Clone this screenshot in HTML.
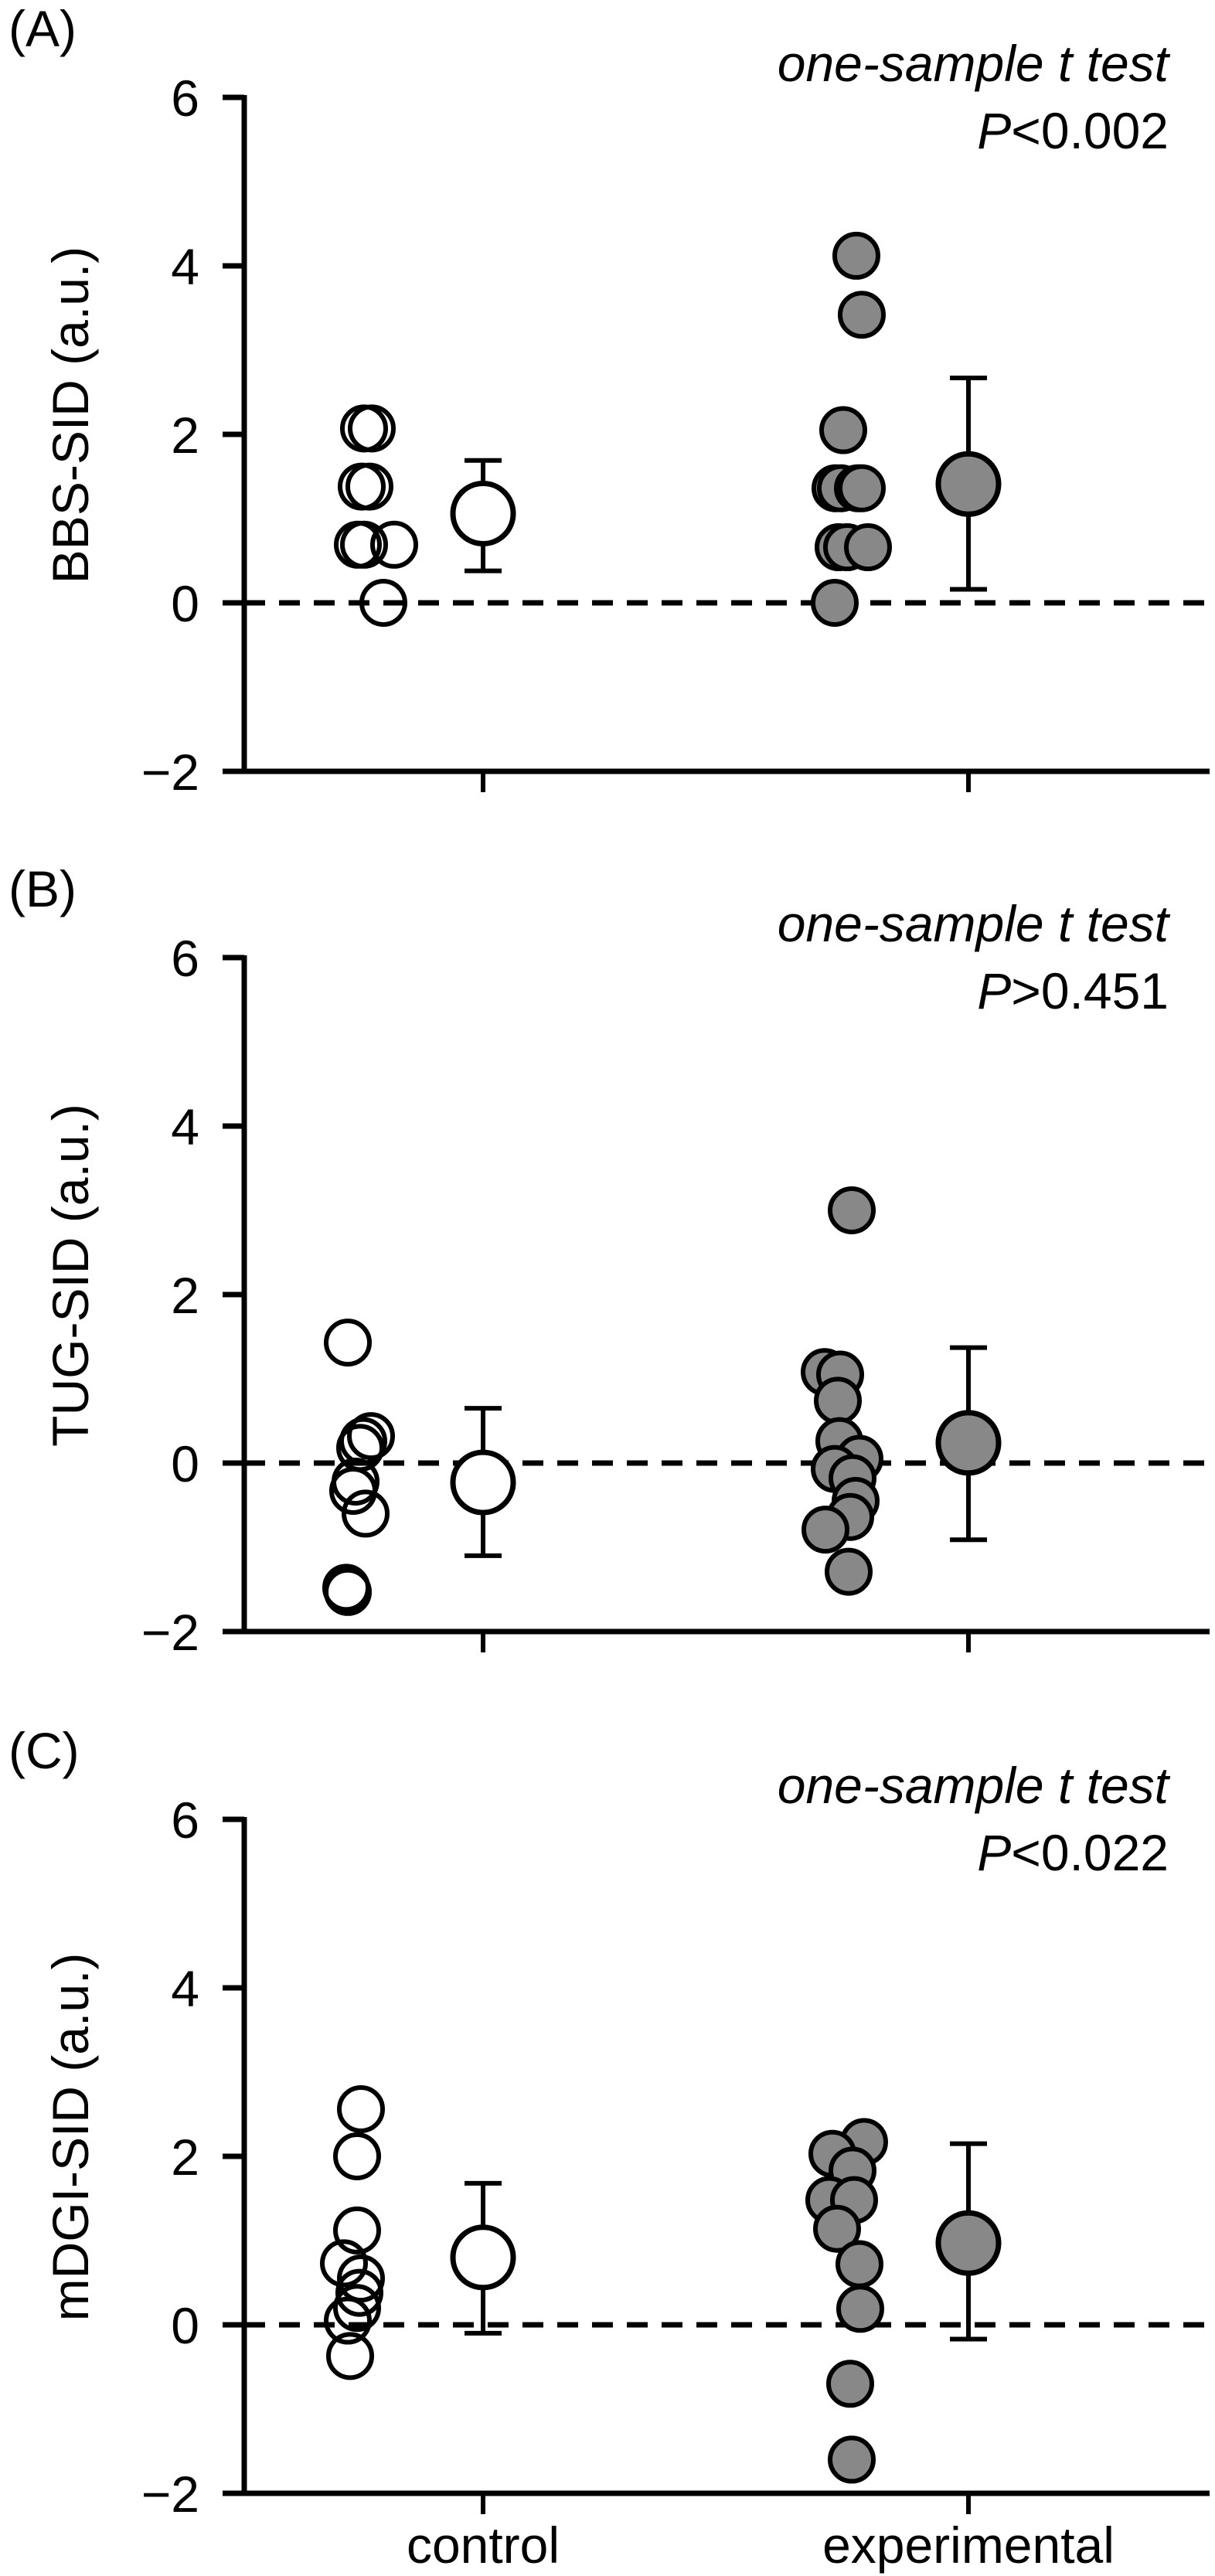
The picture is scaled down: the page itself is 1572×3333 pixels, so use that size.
<!DOCTYPE html>
<html><head><meta charset="utf-8">
<style>
html,body{margin:0;padding:0;background:#fff;}
svg{display:block;}
text{font-family:"Liberation Sans",Arial,sans-serif;fill:#000;}
</style></head>
<body>
<svg id="fig" width="1572" height="3333" viewBox="0 0 1572 3333" xmlns="http://www.w3.org/2000/svg"></svg>
<script>
// ---- data ----
const yTicks = [6, 4, 2, 0, -2];
const yTickLabels = ["6", "4", "2", "0", "\u22122"];
const groups = ["control", "experimental"];
const panelLetters = ["(A)", "(B)", "(C)"];
const yTitles = ["BBS-SID (a.u.)", "TUG-SID (a.u.)", "mDGI-SID (a.u.)"];
const pTexts = [["<", "0.002"], [">", "0.451"], ["<", "0.022"]];

const ctrlA = [2.07, 2.07, 1.38, 1.38, 0.69, 0.69, 0.69, 0];
const ctrlAJit = [-7, 3, -10, 0, -15, -7, 32, 18];
const expA = [4.12, 3.42, 2.05, 1.36, 1.36, 1.36, 1.36, 0.66, 0.66, 0.66, 0];
const expAJit = [-10, -3, -27, -37, -30, -8, -3, -33, -22, 5, -38];
const meanA = [1.06, 1.41];
const errHiA = [1.69, 2.67];
const errLoA = [0.38, 0.16];

const ctrlB = [1.43, 0.32, 0.26, 0.18, -0.22, -0.33, -0.6, -1.48, -1.53];
const ctrlBJit = [-28, 2, -8, -12, -18, -21, -5, -30, -28];
const expB = [3.0, 1.08, 1.05, 0.74, 0.26, 0.05, -0.07, -0.18, -0.45, -0.64, -0.79, -1.29];
const expBJit = [-16, -51, -31, -34, -32, -6, -38, -15, -11, -18, -50, -20];
const meanB = [-0.23, 0.24];
const errHiB = [0.65, 1.37];
const errLoB = [-1.1, -0.91];

const ctrlC = [2.56, 2.0, 1.12, 0.73, 0.55, 0.38, 0.2, 0.05, -0.37];
const ctrlCJit = [-11, -16, -16, -33, -11, -13, -16, -28, -25];
const expC = [2.17, 2.03, 1.83, 1.48, 1.48, 1.14, 0.72, 0.19, -0.7, -1.6];
const expCJit = [0, -41, -15, -45, -13, -35, -6, -5, -18, -16];
const meanC = [0.8, 0.97];
const errHiC = [1.68, 2.15];
const errLoC = [-0.1, -0.17];

const ctrlSets = [ctrlA, ctrlB, ctrlC];
const ctrlJits = [ctrlAJit, ctrlBJit, ctrlCJit];
const expSets = [expA, expB, expC];
const expJits = [expAJit, expBJit, expCJit];
const means = [meanA, meanB, meanC];
const errHis = [errHiA, errHiB, errHiC];
const errLos = [errLoA, errLoB, errLoC];

// ---- layout ----
const NS = "http://www.w3.org/2000/svg";
const svg = document.getElementById("fig");
const AX = 316, AXR = 1565, UNIT = 109;
const zeroYs = [780, 1893, 3008];
const groupX = [625, 1253];
const ptX = [478, 1118];
const FS = 66;

function mk(tag, attrs, parent) {
  const e = document.createElementNS(NS, tag);
  for (const k in attrs) e.setAttribute(k, attrs[k]);
  (parent || svg).appendChild(e);
  return e;
}

for (let p = 0; p < 3; p++) {
  const z = zeroYs[p];
  const y = v => z - v * UNIT;
  const g = mk("g", {});
  
  

  const lt = mk("text", {x: 11, y: y(6) - 66, "font-size": FS}, g);
  lt.textContent = panelLetters[p];
  
  

  // y axis
  const yTop = y(6), yBot = y(-2);
  const ya = mk("line", {x1: AX, y1: yTop - 3, x2: AX, y2: yBot + 3, stroke: "#000", "stroke-width": 7}, g);
  
  
  yTicks.forEach((t, i) => {
    const tk = mk("line", {x1: AX - 28, y1: y(t), x2: AX, y2: y(t), stroke: "#000", "stroke-width": 7}, g);
    
    
    const tl = mk("text", {x: 258, y: y(t) + 24, "font-size": FS, "text-anchor": "end"}, g);
    tl.textContent = yTickLabels[i];
    
    
  });
  // x axis
  const xa = mk("line", {x1: AX - 3, y1: yBot, x2: AXR, y2: yBot, stroke: "#000", "stroke-width": 7}, g);
  
  
  groupX.forEach(gx => {
    const tk = mk("line", {x1: gx, y1: yBot, x2: gx, y2: yBot + 27, stroke: "#000", "stroke-width": 6}, g);
    
    
  });
  if (p === 2) {
    groups.forEach((gn, i) => {
      const t = mk("text", {x: groupX[i], y: yBot + 90, "font-size": FS, "text-anchor": "middle"}, g);
      t.textContent = gn;
      
      
    });
  }
  // y title
  const cy = (yTop + yBot) / 2 - 25;
  const yt = mk("text", {x: 0, y: 0, "font-size": FS, "text-anchor": "middle", transform: `translate(114,${cy}) rotate(-90)`}, g);
  yt.textContent = yTitles[p];
  
  

  // annotation
  const a1 = mk("text", {x: 1512, y: y(6) - 21, "font-size": FS, "text-anchor": "end", "font-style": "italic"}, g);
  a1.textContent = "one-sample t test";
  
  
  const a2 = mk("text", {x: 1512, y: y(6) + 66, "font-size": FS, "text-anchor": "end"}, g);
  
  
  const ts = mk("tspan", {"font-style": "italic"}, a2);
  ts.textContent = "P";
  const ts2 = mk("tspan", {}, a2);
  ts2.textContent = pTexts[p][0] + pTexts[p][1];

  // zero line
  const zl = mk("line", {x1: AX, y1: y(0), x2: AXR, y2: y(0), stroke: "#000", "stroke-width": 7, "stroke-dasharray": "27 18"}, g);
  
  

  // control points
  ctrlSets[p].forEach((v, i) => {
    const c = mk("circle", {cx: ptX[0] + ctrlJits[p][i], cy: y(v), r: 28, fill: "none", stroke: "#000", "stroke-width": 6}, g);
    
    
  });
  // experimental points
  expSets[p].forEach((v, i) => {
    const c = mk("circle", {cx: ptX[1] + expJits[p][i], cy: y(v), r: 28, fill: "#888", stroke: "#000", "stroke-width": 6}, g);
    
    
  });
  // means with error bars
  for (let k = 0; k < 2; k++) {
    const gx = groupX[k];
    const eb = mk("path", {d: `M${gx},${y(errLos[p][k])}V${y(errHis[p][k])}M${gx-24},${y(errHis[p][k])}H${gx+24}M${gx-24},${y(errLos[p][k])}H${gx+24}`, stroke: "#000", "stroke-width": 6, fill: "none"}, g);
    
    
    const m = mk("circle", {cx: gx, cy: y(means[p][k]), r: 39, fill: k === 0 ? "#fff" : "#888", stroke: "#000", "stroke-width": 7}, g);
    
    
  }
}
</script>
</body></html>
